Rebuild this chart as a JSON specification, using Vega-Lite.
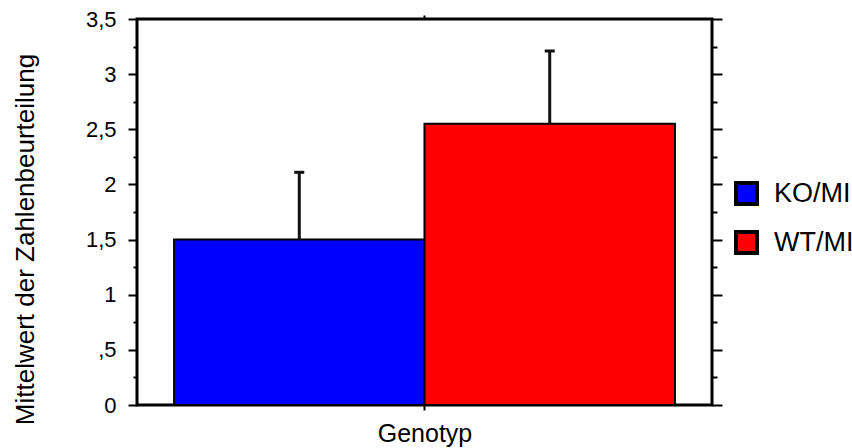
{
  "$schema": "https://vega.github.io/schema/vega-lite/v6.json",
  "width": 575,
  "height": 386,
  "autosize": "none",
  "padding": {"left": 137, "top": 19, "right": 140, "bottom": 43},
  "background": "white",
  "config": {
    "font": "Liberation Sans",
    "view": {"stroke": "black", "strokeWidth": 3},
    "axis": {"domain": false, "grid": false, "tickColor": "black", "tickWidth": 2, "labelColor": "black", "titleColor": "black", "titleFontWeight": "normal", "labelFont": "Liberation Sans", "titleFont": "Liberation Sans"}
  },
  "data": {
    "values": [
      {"genotyp": "Genotyp", "group": "KO/MI", "mean": 1.5, "upper": 2.11},
      {"genotyp": "Genotyp", "group": "WT/MI", "mean": 2.55, "upper": 3.21}
    ]
  },
  "resolve": {"axis": {"y": "independent", "x": "independent"}},
  "layer": [
    {
      "mark": {"type": "bar", "stroke": "black", "strokeWidth": 2},
      "encoding": {
        "x": {"field": "genotyp", "type": "nominal", "scale": {"paddingInner": 0, "paddingOuter": 0.074},
          "axis": {"orient": "bottom", "title": "Genotyp", "labels": false, "tickSize": 5, "titleFontSize": 25, "titlePadding": 10}},
        "xOffset": {"field": "group", "type": "nominal", "scale": {"paddingInner": 0, "paddingOuter": 0}},
        "y": {"field": "mean", "type": "quantitative", "scale": {"domain": [0, 3.5], "nice": false, "zero": true},
          "axis": {"orient": "left", "title": "Mittelwert der Zahlenbeurteilung", "values": [0, 0.5, 1, 1.5, 2, 2.5, 3, 3.5], "format": ".1~f",
            "labelExpr": "datum.value == 0.5 ? ',5' : replace(datum.label, '.', ',')", "tickSize": 9, "labelFontSize": 22, "labelPadding": 12, "titleFontSize": 26, "titlePadding": 47, "titleY": 220}},
        "color": {"field": "group", "type": "nominal", "scale": {"domain": ["KO/MI", "WT/MI"], "range": ["#0000ff", "#ff0000"]},
          "legend": {"title": null, "orient": "none", "legendX": 596, "legendY": 161, "symbolType": "square", "symbolSize": 441, "symbolStrokeColor": "black", "symbolStrokeWidth": 4, "symbolOpacity": 1, "labelFontSize": 27, "labelColor": "black", "labelOffset": 14, "rowPadding": 12}}
      }
    },
    {
      "mark": {"type": "rule", "color": "#111111", "strokeWidth": 3},
      "encoding": {
        "x": {"field": "genotyp", "type": "nominal", "axis": {"orient": "top", "title": null, "labels": false, "tickSize": 4}},
        "xOffset": {"field": "group", "type": "nominal"},
        "y": {"field": "mean", "type": "quantitative",
          "axis": {"orient": "left", "title": null, "labels": false, "values": [0.25, 0.75, 1.25, 1.75, 2.25, 2.75, 3.25], "tickSize": 4}},
        "y2": {"field": "upper"}
      }
    },
    {
      "mark": {"type": "tick", "color": "#111111", "size": 10, "thickness": 3, "opacity": 1},
      "encoding": {
        "x": {"field": "genotyp", "type": "nominal", "axis": null},
        "xOffset": {"field": "group", "type": "nominal"},
        "y": {"field": "upper", "type": "quantitative",
          "axis": {"orient": "right", "title": null, "labels": false, "values": [0, 0.5, 1, 1.5, 2, 2.5, 3, 3.5], "tickSize": 10}}
      }
    },
    {
      "mark": {"type": "point", "opacity": 0},
      "encoding": {
        "x": {"field": "genotyp", "type": "nominal", "axis": null},
        "xOffset": {"field": "group", "type": "nominal"},
        "y": {"field": "mean", "type": "quantitative",
          "axis": {"orient": "right", "title": null, "labels": false, "values": [0.25, 0.75, 1.25, 1.75, 2.25, 2.75, 3.25], "tickSize": 5}}
      }
    }
  ]
}
